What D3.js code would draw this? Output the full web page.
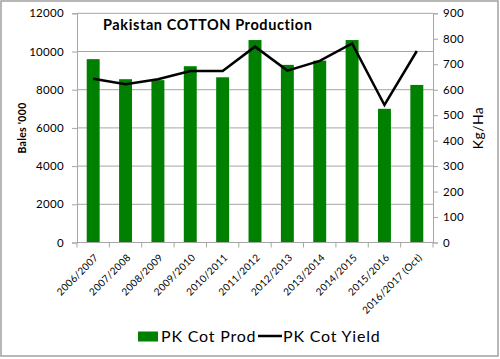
<!DOCTYPE html>
<html><head><meta charset="utf-8">
<script src="https://cdn.jsdelivr.net/npm/d3@7"></script>
<style>body{margin:0;background:#fff}svg{display:block;font-family:Lato,"Open Sans",sans-serif}</style>
</head><body><svg id="c" width="500" height="359"></svg>
<script>
const categories = ["2006/2007","2007/2008","2008/2009","2009/2010","2010/2011","2011/2012","2012/2013","2013/2014","2014/2015","2015/2016","2016/2017 (Oct)"];
const prodValues = [9600,8550,8500,9230,8650,10600,9300,9520,10600,7000,8250];
const yieldValues = [643,621,641,673,673,769,675,713,782,540,752];
const leftTicks = [0,2000,4000,6000,8000,10000,12000];
const rightTicks = [0,100,200,300,400,500,600,700,800,900];

const svg = d3.select("#c");
const L = 77, R = 433, T = 13.3, B = 242.5;
const x = d3.scaleBand().domain(categories).range([L,R]).paddingInner(0.6).paddingOuter(0.3);
const yL = d3.scaleLinear().domain([0,12000]).range([B,T]);
const yR = d3.scaleLinear().domain([0,900]).range([B,T]);
const grey = "#a6a6a6";

svg.append("rect").attr("x",1).attr("y",1).attr("width",497).attr("height",355).attr("fill","#fff").attr("stroke","#a0a0a0").attr("stroke-width",1.5);

// gridlines
svg.append("g").selectAll("line").data(leftTicks.filter(d=>d>0)).join("line")
  .attr("x1",L).attr("x2",R).attr("y1",d=>yL(d)).attr("y2",d=>yL(d)).attr("stroke",grey).attr("stroke-width",1);

// bars
svg.append("g").selectAll("rect").data(prodValues).join("rect")
  .attr("x",(d,i)=>x(categories[i])).attr("width",x.bandwidth())
  .attr("y",d=>yL(d)).attr("height",d=>B-yL(d)).attr("fill","#008000");

// line
const line = d3.line().x((d,i)=>x(categories[i])+x.bandwidth()/2).y(d=>yR(d));
svg.append("path").datum(yieldValues).attr("d",line).attr("fill","none").attr("stroke","#000").attr("stroke-width",2.5).attr("stroke-linejoin","miter");

// left axis
const gL = svg.append("g").attr("transform",`translate(${L},0)`)
  .call(d3.axisLeft(yL).tickValues(leftTicks).tickFormat(d3.format("d")).tickSize(5).tickPadding(8));
// right axis
const gR = svg.append("g").attr("transform",`translate(${R},0)`)
  .call(d3.axisRight(yR).tickValues(rightTicks).tickFormat(d3.format("d")).tickSize(5).tickPadding(5));
// bottom axis
const gB = svg.append("g").attr("transform",`translate(0,${B})`)
  .call(d3.axisBottom(x).tickSize(0).tickPadding(6));
// category boundary ticks
const bounds = d3.range(categories.length+1).map(i=>L+i*(R-L)/categories.length);
svg.append("g").selectAll("line").data(bounds).join("line")
  .attr("x1",d=>d).attr("x2",d=>d).attr("y1",B).attr("y2",B+5).attr("stroke",grey);

[gL,gR,gB].forEach(g=>{
  g.selectAll(".domain").attr("stroke",grey);
  g.selectAll(".tick line").attr("stroke",grey);
  g.selectAll("text").attr("fill","#000").style("font-size","11.5px").style("letter-spacing","0.3px").style("font-family","Lato,'Open Sans',sans-serif");
});
gB.select(".domain").attr("d",`M${L},0H${R}`);
gB.selectAll("text").style("font-size","10px")
  .attr("text-anchor","end").attr("dy","0.35em")
  .attr("transform","translate(-1,9) rotate(-45)");

// title
svg.append("text").attr("x",103).attr("y",30).text("Pakistan COTTON Production")
  .style("font-weight","bold").style("font-size","14.5px").style("letter-spacing","0.6px");
// axis titles
svg.append("text").attr("transform","translate(25.5,128) rotate(-90)").attr("text-anchor","middle")
  .text("Bales '000").style("font-weight","bold").style("font-size","10.5px").style("letter-spacing","0.3px");
svg.append("text").attr("transform","translate(483,128) rotate(-90)").attr("text-anchor","middle")
  .text("Kg/Ha").style("font-size","14px").style("letter-spacing","0.4px");

// legend
svg.append("rect").attr("x",138).attr("y",331.5).attr("width",20).attr("height",10).attr("fill","#008000");
svg.append("text").attr("x",161).attr("y",342).text("PK Cot Prod").style("font-size","16px").style("letter-spacing","0.8px");
svg.append("line").attr("x1",258).attr("x2",282).attr("y1",336).attr("y2",336).attr("stroke","#000").attr("stroke-width",2.5);
svg.append("text").attr("x",283).attr("y",342).text("PK Cot Yield").style("font-size","16px").style("letter-spacing","0.8px");
</script></body></html>
